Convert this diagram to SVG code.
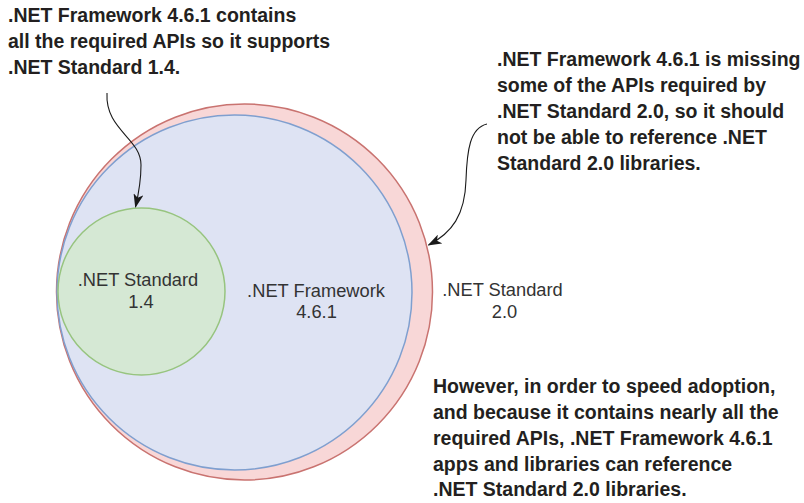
<svg xmlns="http://www.w3.org/2000/svg" width="804" height="503" viewBox="0 0 804 503">
<defs>
<style>
.lbl{font-family:"Liberation Sans",Arial,sans-serif;font-size:18.3px;fill:#333;text-anchor:middle}
.note{font-family:"Liberation Sans",Arial,sans-serif;font-size:19.5px;font-weight:bold;fill:#231f20}
.conn{fill:none;stroke:#1a1a1a;stroke-width:1.1}
</style>
<marker id="arr" markerWidth="14" markerHeight="10" refX="13" refY="5" orient="auto" markerUnits="userSpaceOnUse">
<path d="M0,0 L14,5 L0,10 L3.5,5 Z" fill="#1a1a1a"/>
</marker>
</defs>
<rect width="804" height="503" fill="#ffffff"/>
<g id="netstandard20">
<circle cx="244.5" cy="292" r="188" fill="#f8d7d7" stroke="#c97370" stroke-width="1.5"/>
<text class="lbl" x="502.5" y="296">.NET Standard</text>
<text class="lbl" x="504.5" y="318">2.0</text>
</g>
<g id="netframework461">
<circle cx="234.5" cy="292.5" r="177.5" fill="#dee3f3" stroke="#7f9fcf" stroke-width="1.5"/>
<text class="lbl" x="316" y="297">.NET Framework</text>
<text class="lbl" x="316.5" y="318">4.6.1</text>
</g>
<g id="netstandard14">
<circle cx="141.5" cy="291.5" r="83.5" fill="#d5e8d4" stroke="#97c47f" stroke-width="1.5"/>
<text class="lbl" x="138" y="286">.NET Standard</text>
<text class="lbl" x="141" y="308">1.4</text>
</g>
<g id="note1">
<text class="note" x="8" y="22">.NET Framework 4.6.1 contains</text>
<text class="note" x="8" y="48">all the required APIs so it supports</text>
<text class="note" x="8" y="74">.NET Standard 1.4.</text>
</g>
<g id="note2">
<text class="note" x="497" y="66">.NET Framework 4.6.1 is missing</text>
<text class="note" x="497" y="92">some of the APIs required by</text>
<text class="note" x="497" y="118">.NET Standard 2.0, so it should</text>
<text class="note" x="497" y="144">not be able to reference .NET</text>
<text class="note" x="497" y="170">Standard 2.0 libraries.</text>
</g>
<g id="note3">
<text class="note" x="433" y="393">However, in order to speed adoption,</text>
<text class="note" x="433" y="419">and because it contains nearly all the</text>
<text class="note" x="433" y="445">required APIs, .NET Framework 4.6.1</text>
<text class="note" x="433" y="471">apps and libraries can reference</text>
<text class="note" x="433" y="496">.NET Standard 2.0 libraries.</text>
</g>
<g id="connectors">
<path class="conn" d="M107,93 C105,130 141,138 141,165 C141,180 139,192 135.5,207" marker-end="url(#arr)"/>
<path class="conn" d="M487,124 C470,128 467,150 466,180 C465,215 452,233 428.5,245" marker-end="url(#arr)"/>
</g>
</svg>
